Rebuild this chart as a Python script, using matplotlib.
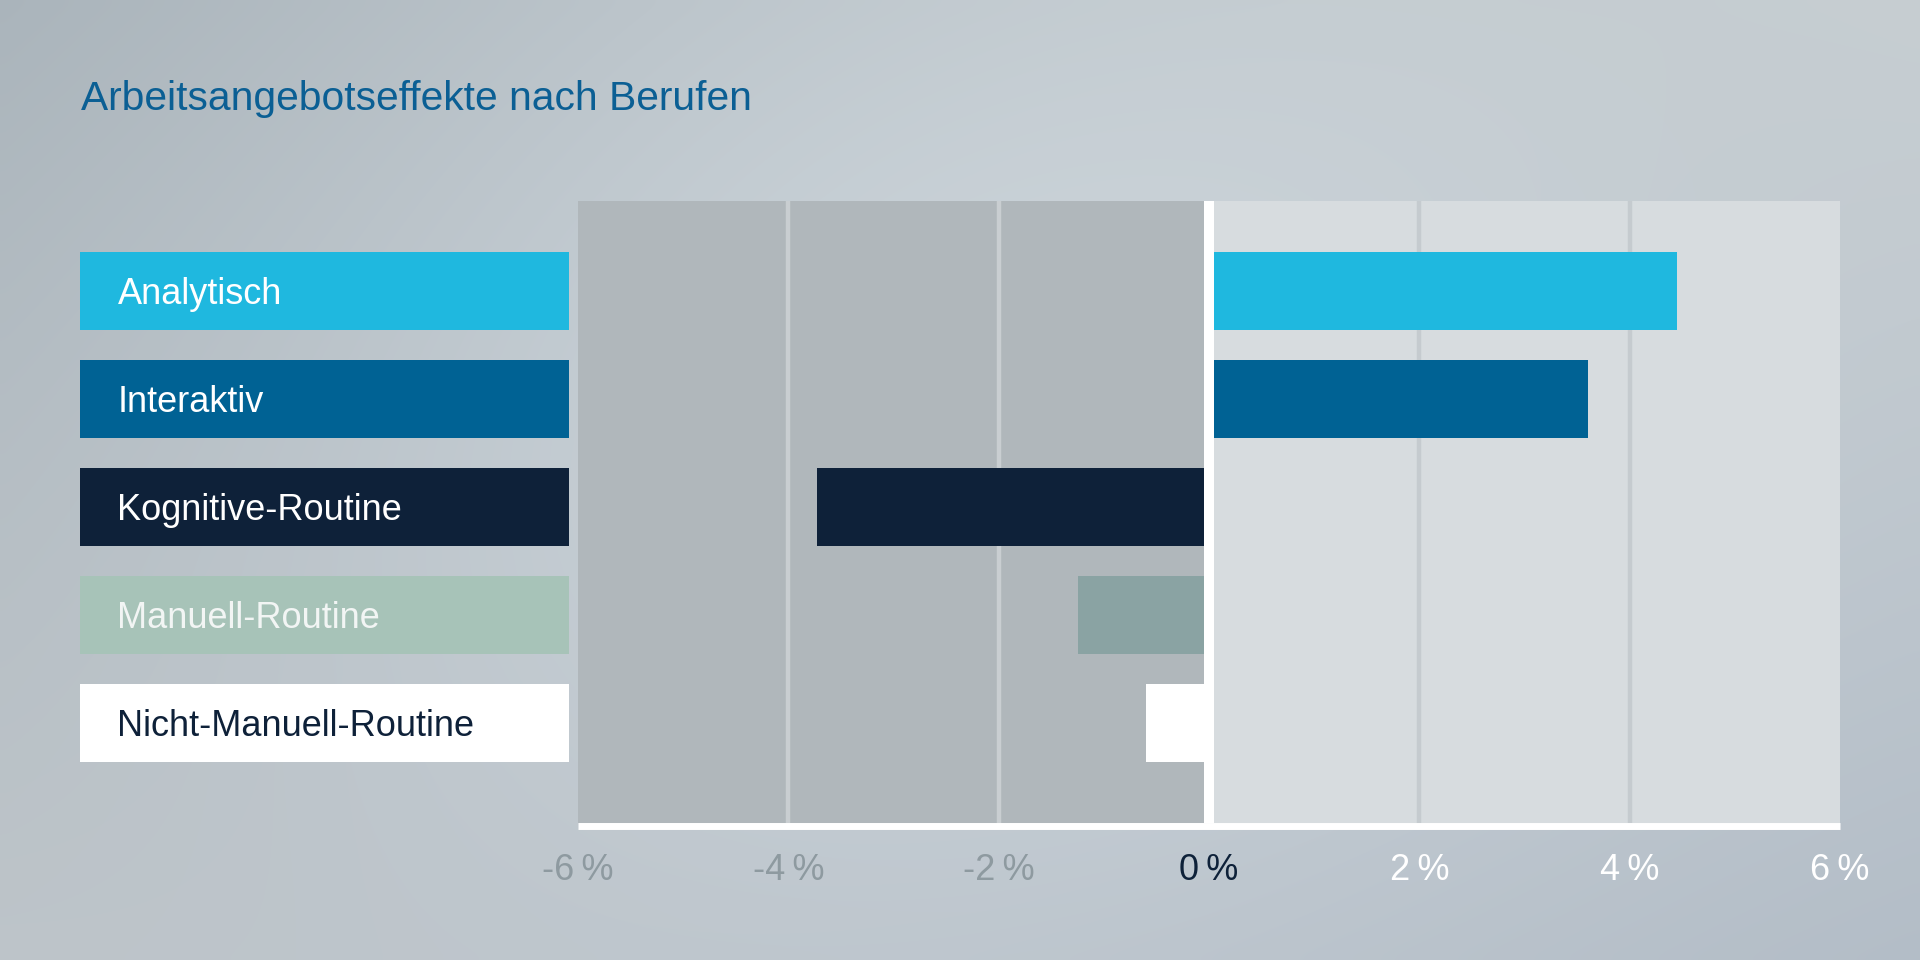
import numpy as np
import matplotlib
matplotlib.use("Agg")
import matplotlib.pyplot as plt

# ---------------- data ----------------
categories = ["Analytisch", "Interaktiv", "Kognitive-Routine", "Manuell-Routine", "Nicht-Manuell-Routine"]
values = [4.45, 3.6, -3.73, -1.25, -0.6]
tick_values = [-6, -4, -2, 0, 2, 4, 6]
tick_labels = ["-6\u2009%", "-4\u2009%", "-2\u2009%", "0\u2009%", "2\u2009%", "4\u2009%", "6\u2009%"]
title = "Arbeitsangebotseffekte nach Berufen"

# ---------------- styles ----------------
box_colors = ["#1FB8DF", "#006294", "#0E2139", "#A7C3B8", "#FFFFFF"]
bar_colors = ["#1FB8DF", "#006294", "#0E2139", "#8AA3A3", "#FFFFFF"]
label_text_colors = ["#FFFFFF", "#FFFFFF", "#FFFFFF", "#F2F5F4", "#0E2139"]
tick_colors = ["#8E9AA0", "#8E9AA0", "#8E9AA0", "#0E2139", "#FFFFFF", "#FFFFFF", "#FFFFFF"]
FONT = ["Liberation Sans", "DejaVu Sans"]
plt.rcParams["font.family"] = FONT

W, H = 1920, 960
fig = plt.figure(figsize=(W / 100, H / 100), dpi=100)


def rect(x0, y0, x1, y1):
    """pixel box (top-left origin) -> figure fraction rect"""
    return [x0 / W, 1 - y1 / H, (x1 - x0) / W, (y1 - y0) / H]


# ---------------- background gradient ----------------
bg = fig.add_axes([0, 0, 1, 1], zorder=-10)
ny, nx = 96, 192
yy, xx = np.mgrid[0:1:ny * 1j, 0:1:nx * 1j]
def hx(c):
    c = c.lstrip("#")
    return np.array([int(c[i:i + 2], 16) for i in (0, 2, 4)]) / 255.0
tl, tr, bl, br = hx("#A8B2B9"), hx("#C4CBCF"), hx("#BCC3C8"), hx("#B2BCC6")
img = ((1 - xx)[..., None] * (1 - yy)[..., None] * tl + xx[..., None] * (1 - yy)[..., None] * tr
       + (1 - xx)[..., None] * yy[..., None] * bl + xx[..., None] * yy[..., None] * br)
bump = np.exp(-(((xx - 0.5) / 0.4) ** 2 + ((yy - 0.4) / 0.6) ** 2))
img = np.clip(img + 0.075 * bump[..., None], 0, 1)
bg.imshow(img, aspect="auto", extent=[0, 1, 0, 1], interpolation="bicubic")
bg.set_axis_off()

# ---------------- layout ----------------
TOP, BOT = 201, 823
y = np.arange(len(categories))
ylim = (4 + 0.926, -0.833)
bar_h = 0.722

# ---------------- main axes ----------------
ax = fig.add_axes(rect(578, TOP, 1840, BOT))
ax.set_xlim(-6, 6)
ax.set_ylim(*ylim)
ax.axvspan(-6, 0, color="#B0B7BB", zorder=0, lw=0)
ax.axvspan(0, 6, color="#D7DCDF", zorder=0, lw=0)
for g in [-4, -2]:
    ax.axvline(g, color="#C9CED1", lw=3.2, zorder=1)
for g in [2, 4]:
    ax.axvline(g, color="#C5CBCF", lw=3.2, zorder=1)
ax.barh(y, values, height=bar_h, color=bar_colors, zorder=2, lw=0)
ax.axvline(0, color="white", lw=7.2, zorder=3)

for s in ["top", "left", "right"]:
    ax.spines[s].set_visible(False)
ax.spines["bottom"].set_color("white")
ax.spines["bottom"].set_linewidth(5.0)
ax.spines["bottom"].set_position(("outward", 2.5))
ax.spines["bottom"].set_capstyle("butt")
ax.set_yticks([])
ax.set_xticks(tick_values)
ax.set_xticklabels(tick_labels, fontsize=26, family=FONT)
ax.tick_params(axis="x", length=0, pad=19)
for lbl, c in zip(ax.get_xticklabels(), tick_colors):
    lbl.set_color(c)

# ---------------- label axes ----------------
lax = fig.add_axes(rect(80, TOP, 569, BOT))
lax.set_xlim(0, 1)
lax.set_ylim(*ylim)
lax.barh(y, [1] * len(categories), left=0, height=bar_h, color=box_colors, lw=0)
for yi, name, tc in zip(y, categories, label_text_colors):
    lax.text((117.5 - 80) / 489, yi, name, va="center_baseline", ha="left",
             fontsize=26, color=tc, family=FONT)
lax.set_axis_off()

# ---------------- title ----------------
fig.text(81 / W, 1 - 110 / H, title, fontsize=29.3, color="#0B5F94",
         va="baseline", ha="left", family=FONT)

fig.savefig("out.png", dpi=100)
